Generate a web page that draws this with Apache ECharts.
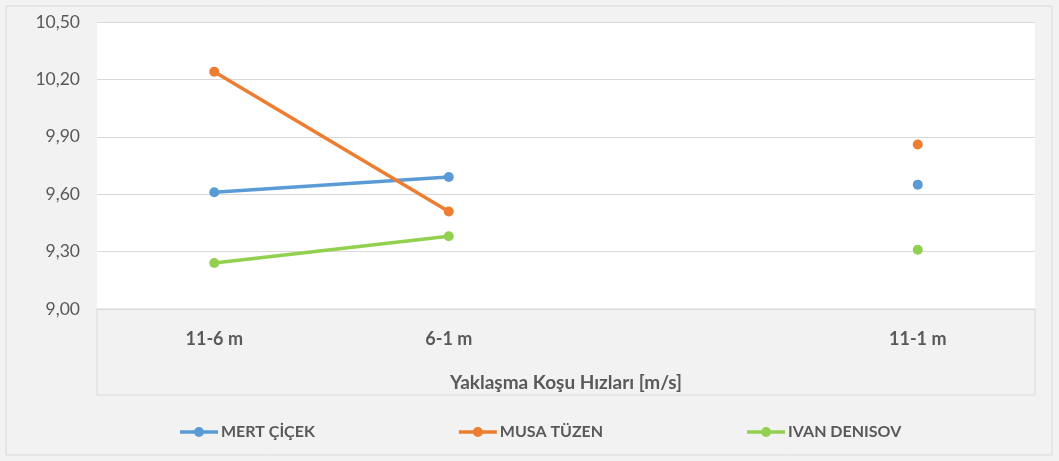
<!DOCTYPE html>
<html lang="tr">
<head>
    <meta charset="UTF-8">
    <title>Yaklaşma Koşu Hızları</title>
    <script src="https://cdn.jsdelivr.net/npm/echarts@6/dist/echarts.min.js"></script>
    <style>
        html, body { margin: 0; padding: 0; background: #fff; }
        #chart { width: 1059px; height: 461px; }
    </style>
</head>
<body>
    <div id="chart"></div>
<script>
    // kategoriler (3. sütun boş, Excel'deki boşluk)
    var categories = ['11-6 m', '6-1 m', '', '11-1 m'];
    var mertCicek = [9.61, 9.69, null, 9.65];
    var musaTuzen = [10.24, 9.51, null, 9.86];
    var ivanDenisov = [9.24, 9.38, null, 9.31];
    var yTicks = [9.00, 9.30, 9.60, 9.90, 10.20, 10.50];

    var font = 'Lato, "Open Sans", sans-serif';
    // lejant simgesi: kalın çizgi + nokta
    var legendIcon = 'path://M0,3.2 L38,3.2 L38,6.8 L0,6.8 Z M19,0 A5,5 0 1 1 19,10 A5,5 0 1 1 19,0 Z';
    var chart = echarts.init(document.getElementById('chart'));

    function makeSeries(name, data, color) {
        return {
            name: name,
            type: 'line',
            data: data,
            symbol: 'circle',
            symbolSize: 10,
            connectNulls: false,
            lineStyle: { width: 3.5, color: color },
            itemStyle: { color: color },
            emphasis: { disabled: true }
        };
    }

    var option = {
        backgroundColor: '#f2f2f2',
        animation: false,
        graphic: [{
            type: 'rect',
            shape: { x: 6, y: 6, width: 1046, height: 449 },
            style: { fill: 'none', stroke: '#d9d9d9', lineWidth: 1 },
            z: 0
        }, {
            // kategori ekseni kutusu
            type: 'rect',
            shape: { x: 97, y: 309, width: 938, height: 86 },
            style: { fill: 'none', stroke: '#d9d9d9', lineWidth: 1 },
            z: 0
        }],
        grid: {
            left: 97, right: 24, top: 22, bottom: 152,
            show: true, backgroundColor: '#ffffff', borderWidth: 0
        },
        legend: {
            left: 180,
            top: 424,
            padding: 0,
            icon: legendIcon,
            itemWidth: 38,
            itemHeight: 10,
            itemGap: 144,
            textStyle: { color: '#595959', fontSize: 16, fontWeight: 'bold', fontFamily: font, padding: [0, 0, 0, -2] },
            data: ['MERT ÇİÇEK', 'MUSA TÜZEN', 'IVAN DENISOV']
        },
        xAxis: {
            type: 'category',
            data: categories,
            boundaryGap: true,
            name: 'Yaklaşma Koşu Hızları [m/s]',
            nameLocation: 'middle',
            nameGap: 64,
            nameTextStyle: { color: '#595959', fontSize: 19, fontWeight: 'bold', fontFamily: font },
            axisLine: { show: true, lineStyle: { color: '#d9d9d9', width: 1 } },
            axisTick: { show: false },
            axisLabel: {
                color: '#595959', fontSize: 18, fontWeight: 'bold', fontFamily: font,
                margin: 21, interval: 0
            }
        },
        yAxis: {
            type: 'value',
            min: yTicks[0],
            max: yTicks[yTicks.length - 1],
            interval: 0.3,
            axisLine: { show: false },
            axisTick: { show: false },
            splitLine: { lineStyle: { color: '#d9d9d9', width: 1 } },
            axisLabel: {
                color: '#595959', fontSize: 17.5, fontFamily: font, margin: 17,
                formatter: function (v) { return v.toFixed(2).replace('.', ','); }
            }
        },
        series: [
            makeSeries('MERT ÇİÇEK', mertCicek, '#5b9bd5'),
            makeSeries('MUSA TÜZEN', musaTuzen, '#ed7d31'),
            makeSeries('IVAN DENISOV', ivanDenisov, '#92d050')
        ]
    };
    chart.setOption(option);
</script>
</body>
</html>
